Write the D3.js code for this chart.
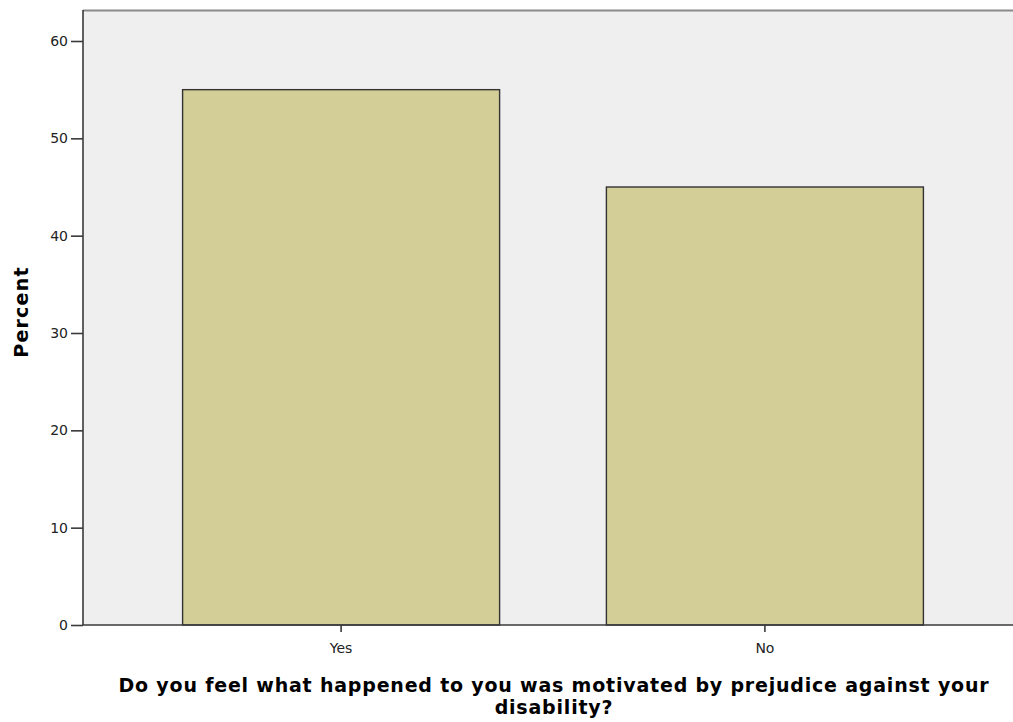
<!DOCTYPE html>
<html><head><meta charset="utf-8">
<script src="https://cdn.jsdelivr.net/npm/d3@7"></script>
<style>body{margin:0;background:#fff}svg{display:block}</style>
</head><body>
<script>
const categories = ["Yes", "No"];
const percents = [55, 45];
const yTicks = [0, 10, 20, 30, 40, 50, 60];
const xTitleLines = ["Do you feel what happened to you was motivated by prejudice against your", "disability?"];
const yTitle = "Percent";

const W = 1013, H = 722;
const m = {left: 83, top: 10, right: -10, bottom: 97};
const svg = d3.select("body").append("svg").attr("width", W).attr("height", H);

const x = d3.scaleBand().domain(categories).range([m.left, W - m.right]).paddingInner(0.252).paddingOuter(0.235);
const y = d3.scaleLinear().domain([0, 60]).range([625, 41]);

svg.append("rect").attr("x", m.left).attr("y", m.top).attr("width", W - m.left + 20).attr("height", 625 - m.top).attr("fill", "#efefef");
svg.append("line").attr("x1", m.left).attr("x2", W).attr("y1", m.top + 0.5).attr("y2", m.top + 0.5).attr("stroke", "#8a8a8a").attr("stroke-width", 2);

svg.selectAll("rect.bar").data(categories).join("rect").attr("class", "bar")
  .attr("x", d => x(d)).attr("width", x.bandwidth())
  .attr("y", (d, i) => y(percents[i])).attr("height", (d, i) => y(0) - y(percents[i]))
  .attr("fill", "#d3ce98").attr("stroke", "#333").attr("stroke-width", 1.4);

const yAxis = svg.append("g").attr("transform", `translate(${m.left},0)`)
  .call(d3.axisLeft(y).tickValues(yTicks).tickSize(12).tickPadding(3));
yAxis.select(".domain").attr("d", `M0,${m.top}V625`);
const xAxis = svg.append("g").attr("transform", "translate(0,625)")
  .call(d3.axisBottom(x).tickSize(7).tickPadding(11));
xAxis.select(".domain").attr("d", `M${m.left},0H${W}`);
[yAxis, xAxis].forEach(g => {
  g.selectAll(".domain, .tick line").attr("stroke", "#3a3a3a").attr("stroke-width", 1.6);
  g.selectAll("text").attr("font-family", "'DejaVu Sans', sans-serif").attr("font-size", 14).attr("fill", "#222");
});

const t = svg.append("text").attr("text-anchor", "middle").attr("font-family", "'DejaVu Sans', sans-serif")
  .attr("font-weight", "bold").attr("font-size", 19).attr("letter-spacing", 0.8).attr("fill", "#000");
xTitleLines.forEach((s, i) => t.append("tspan").attr("x", 554).attr("y", 692 + i * 22).text(s));

svg.append("text").attr("transform", "translate(28,312) rotate(-90)").attr("text-anchor", "middle")
  .attr("font-family", "'DejaVu Sans', sans-serif").attr("font-weight", "bold").attr("font-size", 19)
  .attr("letter-spacing", 1.2).attr("fill", "#000")
  .text(yTitle);
</script>
</body></html>
